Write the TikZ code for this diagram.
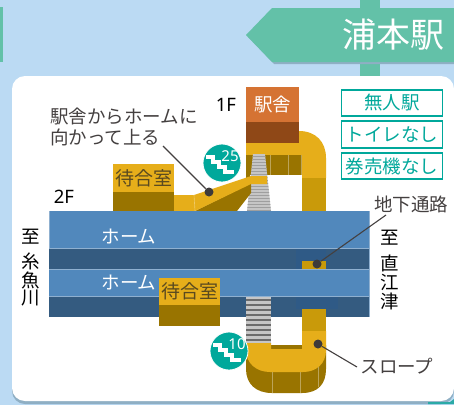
\documentclass[tikz,border=0pt]{standalone}
\usepackage{fontspec}
\setmainfont{Noto Sans CJK JP}
\newfontfamily\latinf{Noto Sans}
\definecolor{sky}{HTML}{BBDAF3}
\definecolor{signg}{HTML}{63C1A8}
\definecolor{signs}{HTML}{8FAFC4}
\definecolor{blueA}{HTML}{5188BC}
\definecolor{blueB}{HTML}{345B80}
\definecolor{blueC}{HTML}{2F5A86}
\definecolor{edgeb}{HTML}{8FB0D0}
\definecolor{yelA}{HTML}{E6AE1A}
\definecolor{yelB}{HTML}{C99A0A}
\definecolor{brn}{HTML}{997400}
\definecolor{orng}{HTML}{D57333}
\definecolor{rust}{HTML}{8F4817}
\definecolor{teal}{HTML}{00A89B}
\definecolor{ink}{HTML}{444040}
\definecolor{roomt}{HTML}{5A4A20}
\newcommand{\fsz}[1]{\fontsize{#1}{#1}\selectfont}
\tikzset{
  lbl/.style={inner sep=0pt,text=ink,font=\fsz{18.5}},
  blk/.style={inner sep=0pt,text=black,font=\fsz{18.5}},
  hm/.style={inner sep=0pt,text=white,font=\fsz{18.5}},
  flr/.style={inner sep=0pt,text=black,font=\latinf\fsz{18.5}},
  tag/.style={draw=teal,line width=1.6pt,fill=white,text=teal,minimum width=101pt,minimum height=26.5pt,inner sep=0pt,font=\fsz{18.5}},
  room/.style={inner sep=0pt,text=roomt,font=\fsz{19}},
  dot/.style={circle,fill=ink!90!black,minimum size=9pt,inner sep=0pt},
  lead/.style={draw=ink,line width=1.1pt},
  stepc/.style={circle,fill=teal,draw=white,line width=0.8pt,minimum size=38pt,inner sep=0pt},
  stepn/.style={inner sep=0pt,text=white,font=\latinf\bfseries\fsz{15}},
  divl/.style={draw=white,opacity=.35,line width=.6pt}
}
\newcommand{\stairicon}[2]{%
  \draw[white,line width=3.4pt,miter limit=2] (#1-16,#2-6) -- (#1-9,#2-6) -- (#1-9,#2-1) -- (#1-3,#2-1) -- (#1-3,#2+4) -- (#1+3,#2+4) -- (#1+3,#2+9) -- (#1+12,#2+9);}
\begin{document}
\begin{tikzpicture}[x=1pt,y=-1pt]
\useasboundingbox (0,0) rectangle (454,405);
\fill[sky] (0,0) rectangle (454,405);
% signboard
\fill[signg] (360,0) rectangle (380,80);
\fill[signs] (248,37) -- (274,64) -- (454,64) -- (454,10) -- (274,10) -- cycle;
\fill[signg] (246,35) -- (272,8) -- (454,8) -- (454,62) -- (272,62) -- cycle;
\fill[signg] (0,7) rectangle (3,62);
\node[inner sep=0pt,text=white,font=\fsz{34}] (name) at (393,35) {浦本駅};
% panel
\fill[signs,rounded corners=13pt] (12,79) rectangle (454,404);
\fill[white,rounded corners=13pt] (12,76) rectangle (454,401);
\fill[teal!70!signs] (428,402) -- (450,402) -- (454,399) -- (454,404) -- (428,404) -- cycle;
% upper walkway
\fill[yelA] (246,143) -- (299,143) -- (299,131) .. controls (316,131) and (326,142) .. (326,158) -- (326,178) -- (302,178) -- (302,155) -- (246,155) -- cycle;
\fill[yelB] (302,178) rectangle (326,211);
\fill[brn] (246,155) rectangle (302,175);
\fill[brn] (246,175) rectangle (250,184);
\draw[divl] (270,155) -- (270,175) (288,155) -- (288,175) (301,155) -- (301,211);
% upper stairs
\begin{scope}
\clip (253,154) -- (265,154) -- (271,211) -- (247,211) -- cycle;
\fill[gray!45] (240,154) rectangle (280,211);
\foreach \yy in {156,159,...,210} \draw[gray!75,line width=.9pt] (240,\yy) -- (280,\yy);
\end{scope}
% ramp
\fill[brn] (195,211) -- (251,183) -- (251,193) -- (237,211) -- cycle;
\fill[yelA] (174,195) -- (194,195) -- (251,176) -- (267,176) -- (267,184) -- (251,184) -- (195,211) -- (174,211) -- cycle;
\draw[divl] (194,195) -- (195,211);
% waiting room upper
\fill[yelA] (113,164) rectangle (174,192);
\fill[brn] (113,192) rectangle (174,211);
\node[room] (roomA) at (143.5,178) {待合室};
% building
\fill[orng] (246,87) rectangle (299,122);
\fill[rust] (246,122) rectangle (299,143);
\node[inner sep=0pt,text=white,font=\fsz{18.5}] (bldg) at (272.5,105) {駅舎};
% platforms
\fill[blueA] (49,211) rectangle (369,248);
\fill[blueB] (49,248) rectangle (369,269);
\fill[blueA] (49,269) rectangle (369,296);
\fill[blueB] (49,296) rectangle (369,317);
\fill[blueC] (296,248) rectangle (326,269);
\fill[blueC] (296,296) rectangle (338,309);
\draw[edgeb,line width=.6pt] (49,248) -- (369,248) (49,269) -- (369,269) (49,296) -- (369,296) (369,211) -- (369,317) (49,211) -- (49,248);
\fill[yelB] (302,261) rectangle (326,269);
\node[hm] (homeA) at (129,237) {ホーム};
\node[hm] (homeB) at (129,283) {ホーム};
% lower stairs
\fill[gray!45] (246,297) rectangle (271,343);
\foreach \yy in {300,305,...,342} \draw[gray!85!black,line width=2pt] (246,\yy) -- (271,\yy);
% waiting room lower
\fill[yelA] (159,278) rectangle (220,305);
\fill[brn] (159,305) rectangle (220,326);
\node[room] (roomB) at (190,291.5) {待合室};
% lower U
\fill[brn] (246,345) -- (246,369) .. controls (246,384) and (256,393) .. (272,393) -- (302,393) .. controls (318,393) and (326,384) .. (326,369) -- (326,345) -- cycle;
\draw[divl] (272,372) -- (272,393) (300,372) -- (300,393) (318,362) -- (318,387);
\fill[yelA] (246,343) -- (271,343) -- (271,349) -- (302,349) -- (302,331) -- (326,331) -- (326,350) .. controls (326,364) and (316,372) .. (303,372) -- (270,372) .. controls (256,372) and (246,363) .. (246,350) -- cycle;
\fill[yelB] (302,309) rectangle (326,331);
% step icons
\node[stepc] (stA) at (222,163) {};
\stairicon{222}{163}
\node[stepn] (stAn) at (230,156.5) {25};
\node[stepc] (stB) at (229,351) {};
\stairicon{229}{351}
\node[stepn] (stBn) at (237,344.5) {10};
% tags
\node[tag] (tagA) at (392,103) {無人駅};
\node[tag] (tagB) at (392,134.5) {トイレなし};
\node[tag] (tagC) at (392,166) {券売機なし};
% floor labels
\node[flr] (oneF) at (226,105) {1F};
\node[flr] (twoF) at (64,197) {2F};
% callouts
\node[lbl,anchor=west] (noteA) at (50,117) {駅舎からホームに};
\node[lbl,anchor=west] (noteB) at (50,137) {向かって上る};
\node[lbl] (under) at (411,204) {地下通路};
\node[lbl] (slope) at (397,366) {スロープ};
\node[dot] (dA) at (209,192) {};
\node[dot] (dB) at (317,264) {};
\node[dot] (dC) at (318,344) {};
\coordinate (fA) at (163,146);
\coordinate (fB) at (386,215);
\coordinate (fC) at (357,367);
\draw[lead] (fA) -- (dA);
\draw[lead] (fB) -- (dB);
\draw[lead] (fC) -- (dC);
% destinations
\node[blk] (leftA) at (31,237) {至};
\node[blk] (leftB) at (31,261) {糸};
\node[blk] (leftC) at (31,280) {魚};
\node[blk] (leftD) at (31,298) {川};
\node[blk] (rightA) at (390,238) {至};
\node[blk] (rightB) at (390,263) {直};
\node[blk] (rightC) at (390,282) {江};
\node[blk] (rightD) at (390,301) {津};
\end{tikzpicture}
\end{document}
